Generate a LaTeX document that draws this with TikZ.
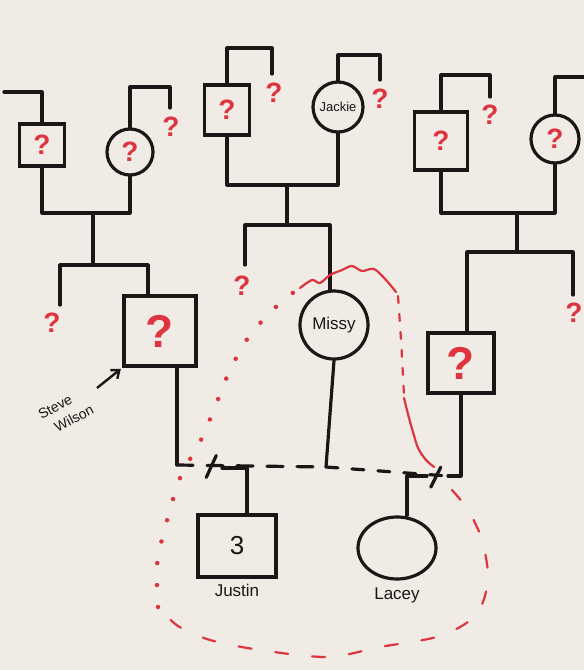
\documentclass[tikz,border=0pt]{standalone}
\usepackage{fontspec}
\setmainfont{Liberation Sans}
\usetikzlibrary{arrows.meta, positioning, shapes.geometric}

\definecolor{paper}{RGB}{240,236,229}
\definecolor{ink}{RGB}{28,22,22}
\definecolor{qred}{RGB}{222,52,64}
\newcommand{\qmarksmall}{\bfseries\fontsize{28}{28}\selectfont}
\newcommand{\qmarkbig}{\bfseries\fontsize{46}{46}\selectfont}
\newcommand{\namefont}{\fontsize{17}{20}\selectfont}

\begin{document}
\begin{tikzpicture}[x=1pt, y=-1pt,
    kin/.style={ink, line width=3.2pt, line cap=round, line join=round},
    male/.style={draw=ink, line width=3.2pt, inner sep=0pt, text=qred, font=\qmarksmall},
    female/.style={draw=ink, line width=3.2pt, circle, inner sep=0pt, text=qred, font=\qmarksmall},
    unk/.style={text=qred, font=\qmarksmall, inner sep=0pt},
    nametag/.style={text=ink, font=\namefont, inner sep=1pt},
    redline/.style={qred, line width=2.2pt, line cap=round, line join=round}]

    % Paper
    \fill[paper] (0,0) rectangle (584,670);
    \useasboundingbox (0,0) rectangle (584,670);

    % Grandparents, left side
    \node[male, minimum width=45pt, minimum height=42pt] (gfL) at (42,145) {?};
    \node[female, minimum size=46pt] (gmL) at (130,152) {?};
    \coordinate (edgeL) at (4,92);
    \draw[kin] (edgeL) -| (gfL.north);
    \coordinate (stubLtop) at (170,87);
    \coordinate (stubL) at (170,108);
    \node[unk] (qL) at (171,127) {?};
    \draw[kin] (gmL.north) |- (stubLtop) -- (stubL);
    \coordinate (jL) at (93,213);
    \coordinate (sibL) at (93,265);
    \draw[kin] (gfL.south) |- (jL) -| (gmL.south);
    \draw[kin] (jL) -- (sibL);

    % Steve and his sibling
    \node[male, minimum width=72pt, minimum height=70pt, font=\qmarkbig] (steve) at (160,331) {?};
    \coordinate (endL1) at (60,305);
    \node[unk] (qL1) at (52,323) {?};
    \draw[kin] (endL1) |- (sibL) -| ([xshift=-12pt]steve.north);

    % Grandparents, middle
    \node[male, minimum width=45pt, minimum height=50pt] (gfM) at (227,110) {?};
    \node[female, minimum size=50pt, text=ink, font=\fontsize{13}{13}\selectfont] (jackie) at (338,107) {Jackie};
    \coordinate (stubM1top) at (272,48);
    \coordinate (stubM1) at (272,74);
    \node[unk] (qM1) at (274,93) {?};
    \draw[kin] (gfM.north) |- (stubM1top) -- (stubM1);
    \coordinate (stubM2top) at (380,55);
    \coordinate (stubM2) at (380,80);
    \node[unk] (qM2) at (380,99) {?};
    \draw[kin] (jackie.north) |- (stubM2top) -- (stubM2);
    \coordinate (jM) at (287,185);
    \coordinate (sibM) at (287,225);
    \draw[kin] (gfM.south) |- (jM) -| (jackie.south);
    \draw[kin] (jM) -- (sibM);

    % Missy and her sibling
    \node[female, minimum size=68pt, text=ink, font=\namefont] (missy) at (334,325) {Missy};
    \coordinate (endM1) at (245,265);
    \node[unk] (qM3) at (242,286) {?};
    \draw[kin] (endM1) |- (sibM) -| ([xshift=-4pt]missy.north);

    % Grandparents, right side
    \node[male, minimum width=53pt, minimum height=58pt] (gfR) at (441,141) {?};
    \node[female, minimum size=48pt] (gmR) at (555,139) {?};
    \coordinate (stubRtop) at (490,75);
    \coordinate (stubR) at (490,97);
    \node[unk] (qR1) at (490,115) {?};
    \draw[kin] (gfR.north) |- (stubRtop) -- (stubR);
    \coordinate (edgeR) at (586,77);
    \draw[kin] (gmR.north) |- (edgeR);
    \coordinate (jR) at (517,213);
    \coordinate (sibR) at (517,252);
    \draw[kin] (gfR.south) |- (jR) -| (gmR.south);
    \draw[kin] (jR) -- (sibR);

    % Second partner and sibling
    \node[male, minimum width=66pt, minimum height=60pt, font=\qmarkbig] (partner) at (461,363) {?};
    \coordinate (endR1) at (573,295);
    \node[unk] (qR2) at (574,313) {?};
    \draw[kin] (endR1) |- (sibR) -| ([xshift=6pt]partner.north);

    % Unions (dashed, with separation marks)
    \coordinate (m1) at (177,465);
    \coordinate (m2) at (326,467);
    \coordinate (m3) at (448,476);
    \draw[kin] (steve.south -| m1) -- (m1);
    \draw[kin] (missy.south) -- (m2);
    \draw[kin] (partner.south) |- (m3);
    \draw[kin, dash pattern=on 16pt off 14pt] (m1) -- (m2);
    \draw[kin, dash pattern=on 12pt off 14pt] (m2) -- (m3);
    \path (m1) -- (m2) coordinate[pos=0.23] (cut1);
    \path (m2) -- (m3) coordinate[pos=0.9] (cut2);
    \draw[kin] ([shift={(-5,12)}]cut1) -- ([shift={(5,-10)}]cut1);
    \draw[kin] ([shift={(-5,12)}]cut2) -- ([shift={(5,-8)}]cut2);

    % Children
    \node[male, minimum width=78pt, minimum height=62pt, text=ink, font=\fontsize{26}{26}\selectfont] (justin) at (237,546) {3};
    \coordinate (kidJ) at (222,468);
    \draw[kin] (kidJ) -| ([xshift=10pt]justin.north);
    \node[nametag, below=4pt of justin] (justinName) {Justin};
    \node[draw=ink, line width=3.2pt, ellipse, minimum width=78pt, minimum height=62pt] (lacey) at (397,548) {};
    \coordinate (kidL) at (427,476);
    \draw[kin] (kidL) -| ([xshift=10pt]lacey.north);
    \node[nametag, below=6pt of lacey] (laceyName) {Lacey};

    % Steve's label
    \node[nametag, rotate=28, align=left, font=\fontsize{14}{19}\selectfont] (steveName) at (66,412) {Steve\\\hspace{8pt}Wilson};
    \coordinate (arrowTail) at (97,388);
    \draw[ink, line width=2.4pt, shorten >=2pt, -{Straight Barb[length=7pt,width=11pt]}] (arrowTail) -- (steve.south west);

    % Red outline round Missy's family
    \draw[redline, line width=4.5pt, dash pattern=on 0pt off 22pt] plot[smooth] coordinates {(158,607) (157,565) (165,528) (180,478) (200,442) (213,412) (230,370) (250,335) (280,303) (300,288)};
    \draw[redline] plot[smooth] coordinates {(300,288) (312,280) (320,283) (330,275) (342,270) (352,266) (362,271) (374,269) (386,280) (396,292)};
    \draw[redline, dash pattern=on 7pt off 11pt] plot[smooth] coordinates {(398,296) (401,340) (404,395)};
    \draw[redline] plot[smooth] coordinates {(404,398) (409,418) (413,432) (418,448) (426,460) (434,467)};
    \draw[redline, dash pattern=on 13pt off 24pt] plot[smooth] coordinates {(452,490) (468,510) (482,540) (488,580) (476,615) (440,636) (380,647) (328,657) (260,650) (210,640) (178,626) (158,607)};
\end{tikzpicture}
\end{document}
